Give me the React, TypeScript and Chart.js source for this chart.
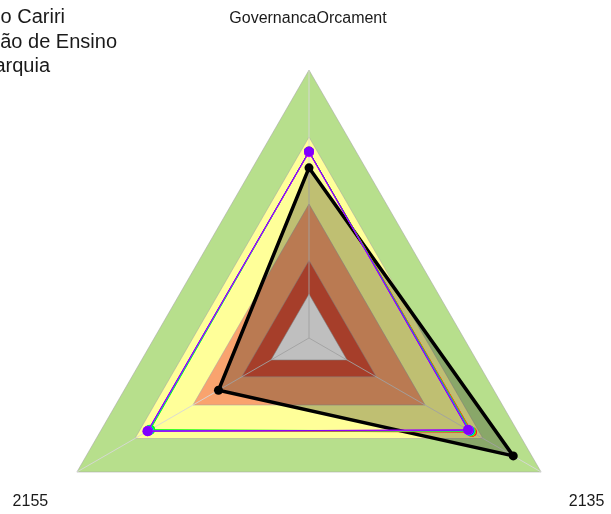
import React, { useEffect, useRef } from 'react';
import { Chart, registerables } from 'chart.js';

Chart.register(...registerables);

// Axis categories (clockwise from top)
const axisLabels = ['GovernancaOrcament', '2135', '2155'];

// Legend text (partly outside the picture in the reference)
const legendLabels = ['Universidade Federal do Cariri', 'Instituição de Ensino', 'Autarquia'];

// Background bands (outer to inner), percentage levels and colours
const bandLevels = [100, 75, 50, 29, 16.4];
const bandColors = ['#B7DF8C', '#FFFF99', '#F9A36E', '#DE5338', '#FFFFFF'];

// Highlighted series (thick black)
const blackName = 'Instituição de Ensino';
const blackValues = [63.5, 88, 39];

// Thin coloured series
const seriesNames = ['Série 1', 'Série 2', 'Série 3', 'Série 4', 'Série 5', 'Série 6', 'Universidade Federal do Cariri'];
const seriesColors = ['#FF0000', '#FF7F00', '#00FF00', '#00E0E0', '#0040FF', '#FF00FF', '#8000FF'];
const seriesValues = [
  [69.5, 70.2, 69.0],
  [69.4, 69.9, 69.2],
  [69.5, 69.6, 68.4],
  [69.4, 69.3, 69.0],
  [69.5, 69.0, 69.3],
  [69.3, 68.7, 69.5],
  [69.6, 68.5, 69.6],
];

const TEXT = '#1a1a1a';
const FONT = '"Liberation Sans", Arial, sans-serif';

export default function App() {
  const ref = useRef<HTMLCanvasElement | null>(null);

  useEffect(() => {
    const canvas = ref.current;
    if (!canvas) return;

    const bandDatasets = bandLevels.map((lvl, i) => ({
      label: 'band' + i,
      data: axisLabels.map(() => lvl),
      backgroundColor: bandColors[i],
      borderColor: 'rgba(165,165,165,0.55)',
      borderWidth: 1,
      pointRadius: 0,
      pointHoverRadius: 0,
      fill: 'origin',
      order: 20 - i,
    }));

    const blackDataset = {
      label: blackName,
      data: blackValues,
      backgroundColor: 'rgba(0,0,0,0.25)',
      borderColor: '#000000',
      borderWidth: 3.5,
      pointRadius: 4.5,
      pointBackgroundColor: '#000000',
      pointBorderColor: '#000000',
      pointBorderWidth: 0,
      fill: 'origin',
      order: 10,
    };

    const colorDatasets = seriesValues.map((vals, i) => ({
      label: seriesNames[i],
      data: vals,
      borderColor: seriesColors[i],
      backgroundColor: seriesColors[i],
      borderWidth: 1,
      pointRadius: 5,
      pointBackgroundColor: seriesColors[i],
      pointBorderWidth: 0,
      fill: false,
      order: 9 - i,
    }));

    const anglePlugin = {
      id: 'angleLinesOverBands',
      afterDatasetDraw(chart: any, args: any) {
        if (args.meta.label !== 'band4') return;
        const scale = chart.scales.r;
        const ctx = chart.ctx;
        ctx.save();
        ctx.strokeStyle = 'rgba(215,215,215,0.9)';
        ctx.lineWidth = 1;
        for (let i = 0; i < axisLabels.length; i++) {
          const p = scale.getPointPosition(i, scale.getDistanceFromCenterForValue(100));
          ctx.beginPath();
          ctx.moveTo(scale.xCenter, scale.yCenter);
          ctx.lineTo(p.x, p.y);
          ctx.stroke();
        }
        ctx.restore();
      },
    };

    const textPlugin = {
      id: 'texts',
      afterDraw(chart: any) {
        const scale = chart.scales.r;
        const ctx = chart.ctx;
        const R = scale.getDistanceFromCenterForValue(100);
        ctx.save();
        ctx.fillStyle = TEXT;
        ctx.font = '16px ' + FONT;
        ctx.textAlign = 'center';
        ctx.textBaseline = 'alphabetic';
        const p0 = scale.getPointPosition(0, R);
        ctx.fillText(axisLabels[0], p0.x - 1, p0.y - 47);
        const p1 = scale.getPointPosition(1, R);
        ctx.fillText(axisLabels[1], p1.x + 45.5, p1.y + 34);
        const p2 = scale.getPointPosition(2, R);
        ctx.fillText(axisLabels[2], p2.x - 46.5, p2.y + 34);

        ctx.font = '20px ' + FONT;
        ctx.textAlign = 'right';
        const rightEdges = [65, 117, 50];
        legendLabels.forEach((t, i) => {
          ctx.fillText(t, rightEdges[i], 23 + i * 24.5);
        });
        ctx.restore();
      },
    };

    const chart = new Chart(canvas, {
      type: 'radar',
      data: {
        labels: axisLabels,
        datasets: [...colorDatasets, blackDataset, ...bandDatasets] as any,
      },
      options: {
        responsive: false,
        animation: false,
        devicePixelRatio: 1,
        layout: { padding: { left: 41, right: 33, top: 70, bottom: 13 } },
        plugins: {
          legend: { display: false },
          tooltip: { enabled: false },
          filler: { propagate: false },
        },
        elements: { line: { tension: 0 } },
        scales: {
          r: {
            min: 0,
            max: 100,
            startAngle: 0,
            grid: { display: false },
            angleLines: { display: false },
            ticks: { display: false },
            pointLabels: { display: false },
          },
        },
      } as any,
      plugins: [anglePlugin, textPlugin],
    });

    return () => chart.destroy();
  }, []);

  return (
    <div style={{ position: 'absolute', left: 0, top: 0, width: 611, height: 514, overflow: 'hidden', background: '#ffffff' }}>
      <canvas ref={ref} width={611} height={620} style={{ display: 'block' }} />
    </div>
  );
}
